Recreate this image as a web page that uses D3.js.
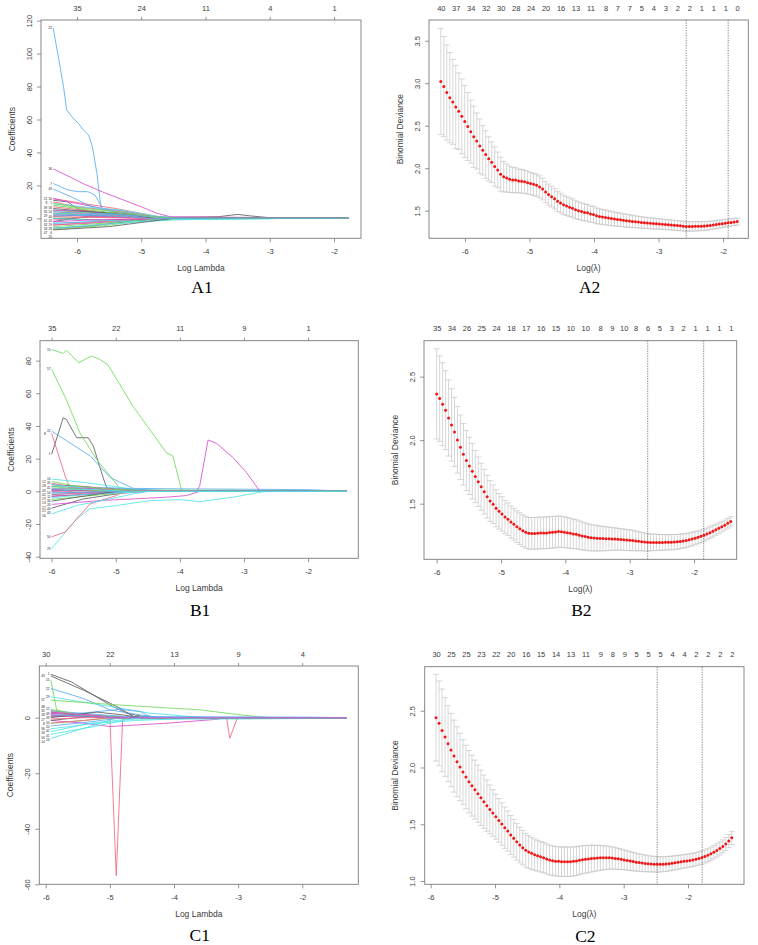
<!DOCTYPE html>
<html><head><meta charset="utf-8">
<script src="https://cdn.jsdelivr.net/npm/d3@7"></script>
<style>body{margin:0;background:#fff}svg{display:block}</style>
</head><body>
<svg id="c" width="758" height="945"></svg>
<script>
// ---------------- DATA ----------------
// Coefficient path plots: each path = list of [logLambda, coefficient] knots (zero afterwards)
const lambdaRangeA = [-6.374, -1.78];
const lambdaRangeB = [-6.0, -1.40];
const lambdaRangeC = [-5.916, -1.31];

const pathsA1 = [
 [[-6.37,11],[-6.15,10],[-5.95,5],[-5.6,3],[-5.0,1],[-4.5,0.5],[-3.8,1],[-3.5,2.4],[-3.3,1.5],[-2.9,0]],
 [[-6.37,10],[-6.0,7],[-5.5,5],[-5.0,2],[-4.6,0]],
 [[-6.37,-6.7],[-5.6,-4.5],[-5.05,-2],[-4.7,-1],[-4.3,-0.5],[-2.8,0]],
 [[-6.37,115.4],[-6.29,98],[-6.21,80],[-6.16,65.8],[-6.08,61.7],[-5.98,57.7],[-5.90,53.6],[-5.82,50.6],[-5.76,43.5],[-5.69,27.3],[-5.64,11.1],[-5.62,5],[-5.55,3],[-5.0,1.5],[-4.5,0.6],[-3.5,0.4],[-2.8,0]],
 [[-6.37,5],[-5.8,4],[-5.3,3],[-4.8,0.5],[-4.4,0]],
 [[-6.37,30],[-6.1,25],[-5.9,21],[-5.6,16],[-5.3,11.5],[-5.0,7],[-4.75,3],[-4.55,1],[-4.0,0.8],[-3.0,0.5],[-2.2,0.2]],
 [[-6.37,3],[-5.9,2],[-5.4,1],[-4.8,0]],
 [[-6.37,12],[-5.9,9],[-5.4,6],[-5.0,3],[-4.6,0]],
 [[-6.37,2],[-5.9,4],[-5.4,2],[-4.8,0]],
 [[-6.37,21.2],[-6.14,17.2],[-5.98,16.2],[-5.83,16.2],[-5.72,14.1],[-5.6,6],[-5.2,3],[-4.8,0]],
 [[-6.37,-3],[-5.8,-2],[-5.2,-1],[-4.6,0]],
 [[-6.37,12],[-6.0,9],[-5.6,6],[-5.2,4],[-4.8,1],[-4.4,0]],
 [[-6.37,-2],[-5.9,1],[-5.4,2],[-5.0,0.5],[-4.7,0]],
 [[-6.37,7],[-5.9,5],[-5.4,3],[-4.9,0]],
 [[-6.37,0],[-5.5,1],[-4.7,0]],
 [[-6.37,17.8],[-6.09,13.1],[-5.83,8.1],[-5.57,5],[-5.2,2],[-4.7,0]],
 [[-6.37,9],[-5.9,7],[-5.3,5],[-4.7,1],[-4.3,0]],
 [[-6.37,-4],[-5.8,-3],[-5.0,-1],[-4.6,0]],
 [[-6.37,-6],[-5.8,-4.5],[-5.2,-2],[-4.7,0]],
 [[-6.37,-1],[-5.8,1],[-5.2,0.5],[-4.7,0]],
 [[-6.37,5],[-5.8,3],[-5.2,2],[-4.7,0]],
 [[-6.37,-3],[-5.7,-2],[-5.0,-1],[-4.6,0]],
 [[-6.37,3],[-5.6,2],[-4.5,-0.5],[-4.0,-0.8],[-3.0,-0.3],[-2.8,0]],
 [[-6.37,5],[-5.8,4],[-5.3,3],[-4.8,1],[-4.5,0]],
 [[-6.37,0],[-5.6,-1],[-5.0,-0.5],[-4.6,0]],
 [[-6.37,4],[-5.5,2],[-4.8,0]],
 [[-6.37,-5],[-5.6,-3],[-5.0,-1],[-4.6,0]],
 [[-6.37,1],[-5.5,3],[-5.0,1],[-4.5,0.5],[-3.9,0]],
 [[-6.37,-6],[-5.7,-4],[-5.0,-2],[-4.5,0]],
 [[-6.37,2],[-5.5,1],[-4.8,0]],
 [[-6.37,6],[-5.8,4],[-5.3,3],[-4.8,0]],
 [[-6.37,-4],[-5.6,-2],[-4.8,0]],
 [[-6.37,8],[-5.8,5],[-5.1,2],[-4.6,0]],
 [[-6.37,4],[-5.8,3],[-5.2,2],[-4.5,0]],
 [[-6.37,0],[-5.8,-1],[-5.0,-2],[-4.5,-1],[-4.0,-0.5],[-3.5,0]],
 [[-6.37,-2],[-5.8,-1],[-5.0,-0.5],[-4.7,0]],
 [[-6.37,-7],[-5.5,-5],[-4.9,-2],[-4.5,0]],
 [[-6.37,1],[-5.6,0.5],[-5.0,0]],
 [[-6.37,9],[-5.9,6],[-5.3,4],[-4.8,1],[-4.4,0]],
 [[-6.37,2],[-5.4,1.5],[-4.9,0]]
];

const pathsB1 = [
 [[-6,22.7],[-5.82,45],[-5.77,44],[-5.61,32.8],[-5.43,32.8],[-5.35,27.7],[-5.19,7.5],[-5.14,2],[-5.0,1.5],[-4.6,0.8],[-4.2,0]],
 [[-6,35.4],[-5.79,9.5],[-5.71,1.4],[-5.5,0.5],[-5.2,0]],
 [[-6,86.8],[-5.82,84.4],[-5.77,86.4],[-5.58,78.7],[-5.38,82.8],[-5.25,80.8],[-5.12,77.3],[-4.73,52],[-4.21,23.7],[-4.11,21.7],[-3.97,0.4],[-3.5,0.3],[-3.0,0]],
 [[-6,36.8],[-5.40,21.7],[-5.09,8.5],[-4.73,1.8],[-4.0,1.5],[-3.0,1.3],[-2.0,1.0],[-1.6,0.4]],
 [[-6,-35],[-5.61,-16.8],[-5.40,-10.7],[-4.99,-8.7],[-4.47,-5.7],[-4.0,-5.1],[-3.69,-6.3],[-3.17,-3.6],[-2.75,-0.6],[-2.65,0]],
 [[-6,0.5],[-4.5,0.2],[-3.74,0],[-3.69,3.4],[-3.56,31.4],[-3.43,29.4],[-3.17,20.6],[-2.96,11.5],[-2.75,0]],
 [[-6,-10.3],[-5.51,-4.7],[-4.99,-1.6],[-4.73,0]],
 [[-6,-27.9],[-5.79,-24.9],[-5.40,-7.7],[-4.99,-2.6],[-4.88,0]],
 [[-6,74.7],[-5.77,56],[-5.56,35.8],[-5.30,19.6],[-4.99,4.5],[-4.91,0]],
 [[-6,-2],[-5.5,-1],[-5,0]],
 [[-6,7.5],[-5.51,5.5],[-4.73,1.4],[-4.3,0]],
 [[-6,-8],[-5.25,-5.7],[-4.21,-3.6],[-3.90,-2.6],[-3.69,0]],
 [[-6,4],[-5.5,3],[-5.1,1],[-4.8,0]],
 [[-6,5],[-5.6,2],[-5.1,0]],
 [[-6,2],[-5.5,1.5],[-4.5,0.8],[-3.0,0.6],[-2.42,0]],
 [[-6,3],[-5.4,2.5],[-5.0,2],[-4.5,1],[-4.0,0]],
 [[-6,-13.8],[-5.61,-8.7],[-5.09,-4.7],[-4.73,-1.6],[-4.47,0]],
 [[-6,2],[-5.6,-1],[-5.0,-1.5],[-4.5,0]],
 [[-6,-3],[-5.5,-2],[-4.8,0]],
 [[-6,1],[-5.5,3],[-5.0,1],[-4.6,0]],
 [[-6,-5],[-5.5,-3],[-4.9,-1],[-4.6,0]],
 [[-6,-1],[-5.0,-0.5],[-4.5,0]],
 [[-6,4],[-5.5,2],[-4.9,0]],
 [[-6,-3],[-5.5,-2],[-4.8,0]],
 [[-6,1],[-5.5,0.5],[-5,0]],
 [[-6,-2],[-5.5,-1],[-5,0]],
 [[-6,6],[-5.6,3],[-5.0,1],[-4.7,0]],
 [[-6,0],[-5.5,1],[-5,0]],
 [[-6,-4],[-5.5,-2],[-5,-1],[-4.5,0]],
 [[-6,1],[-5.5,2],[-5,0.5],[-4.6,0]],
 [[-6,-6],[-5.5,-3],[-5,0]],
 [[-6,0],[-5.0,0.5],[-4.0,0.3],[-3.7,0]],
 [[-6,3],[-5.5,1],[-5,0]],
 [[-6,-1],[-5.5,-0.5],[-5,0]],
 [[-6,1.5],[-5.3,1],[-4.8,0]]
];

const pathsC1 = [
 [[-5.92,15.6],[-5.60,12.9],[-5.0,4.6],[-4.74,1.6],[-4.5,0.5],[-4.2,0]],
 [[-5.92,0.5],[-5.4,0.3],[-5.0,0],[-4.90,-56.9],[-4.80,0]],
 [[-5.92,13.5],[-5.83,2.8],[-5.72,2.2],[-5.4,0.5],[-5.0,0]],
 [[-5.92,10.5],[-5.41,6.9],[-5.0,2.8],[-4.53,1],[-4.2,0]],
 [[-5.92,7.5],[-5.15,4.6],[-4.37,1.6],[-3.8,0.5],[-3.5,0]],
 [[-5.92,-1],[-5.4,-2],[-5.0,-3.2],[-4.11,-2],[-3.33,-0.6],[-3.2,0]],
 [[-5.92,15],[-5.41,9.9],[-4.89,4.0],[-4.63,0.4],[-4.4,0]],
 [[-5.92,1],[-5.3,0.5],[-4.8,0],[-3.18,0],[-3.13,-7.4],[-3.01,0]],
 [[-5.92,6.3],[-4.89,4.6],[-3.59,2.8],[-2.97,1],[-2.7,0.4],[-2.5,0]],
 [[-5.92,0.5],[-4.84,3],[-4.53,2.2],[-4.37,0.4],[-3.0,0.3],[-2.0,0.2]],
 [[-5.92,-7.5],[-5.15,-2],[-4.89,0]],
 [[-5.92,1],[-5.5,0.5],[-5,0]],
 [[-5.92,2],[-5.5,1],[-5.0,0.5],[-4.6,0]],
 [[-5.92,2.5],[-5.6,1.5],[-5.2,0]],
 [[-5.92,-2],[-5.4,-1],[-4.9,0]],
 [[-5.92,2.5],[-5.4,1.5],[-4.8,0.5],[-4.0,0]],
 [[-5.92,-5],[-5.3,-2],[-4.7,-0.5],[-3.0,-0.5],[-2.0,-0.3],[-1.5,0]],
 [[-5.92,0.5],[-5.4,0.8],[-5.0,0.3],[-4.6,0]],
 [[-5.92,-1],[-5.3,0.5],[-4.9,0]],
 [[-5.92,-0.5],[-5.4,0],[-5.0,0]],
 [[-5.92,1.5],[-5.2,0.8],[-4.8,0]],
 [[-5.92,-3],[-5.3,-1.5],[-4.8,0]],
 [[-5.92,-4],[-5.2,-2],[-4.6,-1],[-4.0,-0.5],[-3.5,0]],
 [[-5.92,1.5],[-5.3,1],[-4.9,0]],
 [[-5.92,0],[-5.2,2],[-4.8,1],[-4.5,0]],
 [[-5.92,-2],[-5.4,-1],[-5.0,0]],
 [[-5.92,3],[-5.5,1],[-5.0,0]],
 [[-5.92,1],[-5.3,0.5],[-4.9,0]],
 [[-5.92,-6],[-5.2,-3],[-4.8,-1],[-4.5,0]],
 [[-5.92,2],[-5.4,1],[-5.0,0]]
];

// top-axis non-zero counts of coefficient plots (at log lambda -6..-2)
const coefTicks = [-6, -5, -4, -3, -2];
const dfA1 = [35, 24, 11, 4, 1];
const dfB1 = [35, 22, 11, 9, 1];
const dfC1 = [30, 22, 13, 9, 4];

// Cross-validation curves (100 lambdas each)
const cvLambdaA = [-6.374, -1.78];
const cvLambdaB = [-6.0, -1.43];
const cvLambdaC = [-5.916, -1.32];

const cvMeanA = [3.02,2.96,2.89,2.83,2.78,2.72,2.67,2.61,2.55,2.49,2.43,2.37,2.32,2.26,2.21,2.16,2.11,2.07,2.02,1.98,1.93,1.90,1.885,1.87,1.86,1.86,1.85,1.845,1.84,1.83,1.82,1.81,1.80,1.78,1.755,1.72,1.69,1.665,1.64,1.61,1.59,1.57,1.555,1.54,1.53,1.51,1.50,1.49,1.48,1.475,1.46,1.455,1.44,1.432,1.426,1.42,1.414,1.408,1.402,1.397,1.392,1.387,1.382,1.378,1.374,1.37,1.366,1.362,1.358,1.355,1.352,1.349,1.346,1.343,1.34,1.337,1.334,1.331,1.328,1.325,1.322,1.318,1.315,1.315,1.315,1.316,1.317,1.318,1.32,1.323,1.327,1.332,1.337,1.342,1.347,1.352,1.357,1.362,1.367,1.372];
const cvSeA = [.625,.59,.56,.53,.50,.49,.45,.44,.425,.40,.37,.36,.33,.32,.29,.28,.26,.24,.23,.21,.20,.18,.165,.155,.15,.145,.14,.14,.135,.135,.13,.13,.13,.13,.128,.126,.124,.122,.12,.118,.116,.114,.112,.11,.108,.106,.104,.102,.1,.098,.096,.094,.092,.09,.088,.086,.085,.084,.082,.08,.078,.076,.075,.074,.072,.07,.068,.067,.066,.065,.064,.063,.062,.061,.06,.06,.06,.059,.059,.058,.058,.057,.057,.056,.056,.055,.054,.053,.052,.051,.05,.049,.048,.047,.046,.045,.044,.043,.042,.041];

const cvMeanB = [2.364,2.327,2.283,2.236,2.175,2.12,2.065,2.002,1.944,1.889,1.839,1.797,1.755,1.713,1.673,1.634,1.594,1.555,1.521,1.495,1.464,1.44,1.419,1.395,1.377,1.356,1.338,1.319,1.303,1.287,1.275,1.267,1.266,1.266,1.268,1.27,1.27,1.27,1.273,1.275,1.277,1.28,1.278,1.275,1.271,1.267,1.262,1.259,1.252,1.246,1.241,1.236,1.232,1.23,1.228,1.226,1.225,1.224,1.223,1.222,1.221,1.22,1.218,1.216,1.214,1.212,1.21,1.207,1.204,1.201,1.198,1.196,1.195,1.195,1.195,1.195,1.195,1.196,1.196,1.197,1.198,1.2,1.203,1.206,1.21,1.215,1.221,1.228,1.235,1.243,1.252,1.262,1.272,1.283,1.294,1.306,1.318,1.331,1.345,1.36];
const cvSeB = [.355,.336,.327,.311,.30,.285,.272,.262,.254,.242,.236,.225,.218,.205,.195,.185,.176,.168,.16,.152,.146,.14,.135,.131,.128,.126,.125,.125,.125,.125,.125,.125,.125,.125,.125,.125,.125,.125,.125,.124,.124,.123,.122,.121,.12,.118,.116,.114,.112,.11,.108,.106,.104,.102,.1,.098,.096,.094,.092,.09,.088,.086,.085,.084,.083,.082,.08,.078,.075,.072,.07,.068,.066,.065,.064,.063,.062,.061,.06,.06,.059,.058,.057,.056,.055,.054,.053,.052,.05,.049,.048,.046,.045,.044,.043,.042,.04,.039,.038,.037];

const cvMeanC = [2.439,2.389,2.327,2.269,2.21,2.154,2.101,2.051,2.004,1.96,1.916,1.875,1.84,1.805,1.769,1.734,1.699,1.664,1.631,1.599,1.567,1.534,1.502,1.47,1.44,1.405,1.376,1.346,1.317,1.294,1.27,1.256,1.244,1.232,1.223,1.214,1.206,1.194,1.185,1.179,1.173,1.173,1.17,1.17,1.17,1.17,1.173,1.176,1.182,1.188,1.191,1.194,1.198,1.2,1.202,1.204,1.205,1.205,1.204,1.202,1.199,1.195,1.191,1.186,1.181,1.176,1.171,1.166,1.162,1.158,1.155,1.152,1.15,1.148,1.147,1.147,1.148,1.15,1.153,1.157,1.161,1.165,1.169,1.173,1.177,1.181,1.186,1.192,1.199,1.207,1.216,1.227,1.24,1.254,1.269,1.286,1.305,1.326,1.352,1.38];
const cvSeC = [.382,.373,.364,.347,.335,.323,.317,.308,.297,.285,.28,.275,.268,.26,.252,.244,.235,.226,.215,.205,.198,.192,.187,.182,.177,.172,.167,.162,.157,.152,.148,.144,.141,.138,.136,.134,.133,.132,.131,.13,.13,.13,.13,.13,.13,.129,.128,.127,.126,.124,.122,.12,.118,.115,.112,.11,.107,.104,.101,.098,.095,.092,.089,.087,.085,.083,.081,.079,.077,.075,.073,.071,.07,.069,.068,.067,.066,.065,.064,.063,.062,.061,.06,.06,.059,.059,.058,.058,.058,.058,.058,.058,.058,.058,.058,.058,.058,.058,.058,.058];

// top-axis labels of CV plots: lambda index and number of non-zero coefficients
const cvTopIndex = [0,5,10,15,20,25,30,35,40,45,50,55,59,63,67,71,75,79,83,87,91,95,99];
const nzA = [40,37,34,32,30,28,24,20,16,13,11,8,7,7,5,4,3,2,2,1,1,1,0];
const nzB = [35,34,26,25,24,18,17,16,15,10,10,8,9,10,8,6,5,3,2,1,1,1,1];
const nzC = [30,25,25,23,22,20,16,15,14,13,11,9,8,9,5,5,5,4,4,2,2,2,2];

// lambda.min and lambda.1se (log)
const vlinesA = [-2.57, -1.92];
const vlinesB = [-2.72, -1.85];
const vlinesC = [-2.48, -1.78];

// ---------------- DRAWING ----------------
const svg = d3.select('#c');
const SANS = "'Liberation Sans', Arial, sans-serif";
const SERIF = "'Liberation Serif', 'Times New Roman', serif";
const palette = ["#5e5e5e","#F0667F","#70D85C","#5CACEF","#52E4E7","#DA4CD0"];
const BOXC = "#7a7a7a", TXT = "#3a3a3a";

function styleAxis(sel, fs) {
  sel.select('.domain').remove();
  sel.selectAll('.tick line').attr('stroke', BOXC).attr('stroke-width', 0.8);
  sel.selectAll('.tick text').attr('fill', TXT).style('font-family', SANS).style('font-size', (fs||7.5)+'px');
}

function frame(o, x, y, yFmt, xTitle, yTitle) {
  const g = svg.append('g');
  const bx = g.append('g').attr('transform', `translate(0,${o.B})`)
    .call(d3.axisBottom(x).tickValues(o.xt).tickSize(4).tickFormat(d => String(d)));
  styleAxis(bx);
  bx.selectAll('.tick text').attr('y', 16).attr('dy', 0);
  const ly = g.append('g').attr('transform', `translate(${o.L},0)`)
    .call(d3.axisLeft(y).tickValues(o.yt).tickSize(4).tickFormat(yFmt));
  styleAxis(ly);
  ly.selectAll('.tick text').attr('transform', 'rotate(-90)').attr('x', 0).attr('y', -9.5)
    .attr('dy', 0).attr('text-anchor', 'middle');
  g.append('rect').attr('x', o.L).attr('y', o.T).attr('width', o.R - o.L).attr('height', o.B - o.T)
    .attr('fill', 'none').attr('stroke', BOXC).attr('stroke-width', 0.9);
  const cx = (o.L + o.R) / 2, cy = (o.T + o.B) / 2;
  g.append('text').attr('x', cx).attr('y', o.B + 33).attr('text-anchor', 'middle')
    .style('font-family', SANS).style('font-size', '8.5px').attr('fill', TXT).text(xTitle);
  g.append('text').attr('transform', `translate(${o.L - 26.5},${cy}) rotate(-90)`).attr('text-anchor', 'middle')
    .style('font-family', SANS).style('font-size', '8.5px').attr('fill', TXT).text(yTitle);
  g.append('text').attr('x', cx + 1).attr('y', o.capY).attr('text-anchor', 'middle')
    .style('font-family', SERIF).style('font-size', '17.5px').attr('fill', '#000').text(o.cap);
}

function coefPanel(o) {
  const x = d3.scaleLinear().domain(o.xd).range([o.L, o.R]);
  const y = d3.scaleLinear().domain(o.yd).range([o.B, o.T]);
  const line = d3.line().x(d => x(d[0])).y(d => y(d[1]));
  const g = svg.append('g');
  o.paths.forEach((p, i) => {
    const pts = p.slice();
    if (pts[pts.length - 1][0] < o.end[1]) pts.push([o.end[1], 0]);
    g.append('path').attr('d', line(pts)).attr('fill', 'none')
      .attr('stroke', palette[i % 6]).attr('stroke-width', 0.9).attr('stroke-opacity', 0.95);
  });
  // tiny variable labels at the left end, packed in two narrow columns so they do not collide
  const FS = 3.2, GAP = 3.9;
  const x0 = x(o.paths[0][0][0]);
  const cols = [x0 - 1.2, x0 - 6.0];
  const placed = [[], []];
  const labs = o.paths.map((p, i) => ({y: y(p[0][1]), t: String((i * 7) % 57 + 1)}))
    .sort((a, b) => a.y - b.y);
  const offs = [0, 1, -1, 2, -2, 3, -3, 4, -4, 5, -5, 6, -6, 7, -7, 8, -8];
  labs.forEach(l => {
    let done = false;
    for (const dv of offs) {
      for (let c = 0; c < 2 && !done; c++) {
        const yy = l.y + dv;
        if (yy < o.T + 3 || yy > o.B - 1) continue;
        if (placed[c].every(py => Math.abs(py - yy) >= GAP)) {
          placed[c].push(yy);
          g.append('text').attr('x', cols[c]).attr('y', yy + 1.1).attr('text-anchor', 'end')
            .style('font-family', SANS).style('font-size', FS + 'px').attr('fill', '#222').text(l.t);
          done = true;
        }
      }
      if (done) break;
    }
  });
  frame(o, x, y, d => String(d), 'Log Lambda', 'Coefficients');
  const tx = svg.append('g').attr('transform', `translate(0,${o.T})`)
    .call(d3.axisTop(x).tickValues(coefTicks).tickSize(3).tickFormat((d, i) => String(o.df[i])));
  styleAxis(tx);
  tx.selectAll('.tick text').attr('y', -9.5).attr('dy', 0);
}

function cvPanel(o) {
  const x = d3.scaleLinear().domain(o.xd).range([o.L, o.R]);
  const y = d3.scaleLinear().domain(o.yd).range([o.B, o.T]);
  const n = o.mean.length;
  const xs = o.mean.map((_, i) => o.lam[0] + i * (o.lam[1] - o.lam[0]) / (n - 1));
  const barw = 0.01 * (o.lam[1] - o.lam[0]);
  const g = svg.append('g');
  const c = '#c6c6c6';
  o.mean.forEach((m, i) => {
    const lo = m - o.se[i], hi = m + o.se[i];
    g.append('line').attr('x1', x(xs[i])).attr('x2', x(xs[i])).attr('y1', y(lo)).attr('y2', y(hi))
      .attr('stroke', c).attr('stroke-width', 0.7);
    [lo, hi].forEach(v => g.append('line').attr('x1', x(xs[i] - barw)).attr('x2', x(xs[i] + barw))
      .attr('y1', y(v)).attr('y2', y(v)).attr('stroke', c).attr('stroke-width', 0.7));
  });
  o.vl.forEach(v => g.append('line').attr('x1', x(v)).attr('x2', x(v)).attr('y1', o.T).attr('y2', o.B)
    .attr('stroke', '#5a5a5a').attr('stroke-width', 0.8).attr('stroke-dasharray', '1.2,1.3'));
  g.selectAll('circle.pt').data(o.mean).enter().append('circle')
    .attr('cx', (d, i) => x(xs[i])).attr('cy', d => y(d)).attr('r', 1.5).attr('fill', '#f21616');
  frame(o, x, y, d3.format('.1f'), 'Log(λ)', 'Binomial Deviance');
  const tx = svg.append('g').attr('transform', `translate(0,${o.T})`)
    .call(d3.axisTop(x).tickValues(cvTopIndex.map(i => xs[i])).tickSize(0).tickFormat((d, i) => String(o.nz[i])));
  styleAxis(tx);
  tx.selectAll('.tick line').remove();
  tx.selectAll('.tick text').attr('y', -9.5).attr('dy', 0);
}

const xt = [-6, -5, -4, -3, -2];
coefPanel({L: 41, R: 361, T: 20, B: 238.3, xd: [-6.560, -1.580], yd: [-12.1, 120.4], xt, yt: [0,20,40,60,80,100,120],
  paths: pathsA1, end: lambdaRangeA, df: dfA1, cap: 'A1', capY: 293});
cvPanel({L: 429, R: 748.3, T: 20, B: 238.3, xd: [-6.557, -1.608], yd: [1.175, 3.744], xt, yt: [1.5,2.0,2.5,3.0,3.5],
  mean: cvMeanA, se: cvSeA, lam: cvLambdaA, nz: nzA, vl: vlinesA, cap: 'A2', capY: 293});
coefPanel({L: 40, R: 358.3, T: 340.7, B: 558.3, xd: [-6.182, -1.216], yd: [-41.0, 92.2], xt, yt: [-40,-20,0,20,40,60,80],
  paths: pathsB1, end: lambdaRangeB, df: dfB1, cap: 'B1', capY: 616});
cvPanel({L: 424, R: 736.7, T: 340.7, B: 559.3, xd: [-6.197, -1.337], yd: [1.062, 2.783], xt, yt: [1.5,2.0,2.5],
  mean: cvMeanB, se: cvSeB, lam: cvLambdaB, nz: nzB, vl: vlinesB, cap: 'B2', capY: 616});
coefPanel({L: 39.3, R: 358.3, T: 666, B: 884.3, xd: [-6.100, -1.126], yd: [-60.0, 18.6], xt, yt: [-60,-40,-20,0],
  paths: pathsC1, end: lambdaRangeC, df: dfC1, cap: 'C1', capY: 941});
cvPanel({L: 424.7, R: 744, T: 666.7, B: 884.3, xd: [-6.093, -1.130], yd: [0.971, 2.888], xt, yt: [1.0,1.5,2.0,2.5],
  mean: cvMeanC, se: cvSeC, lam: cvLambdaC, nz: nzC, vl: vlinesC, cap: 'C2', capY: 942});
</script>
</body></html>
